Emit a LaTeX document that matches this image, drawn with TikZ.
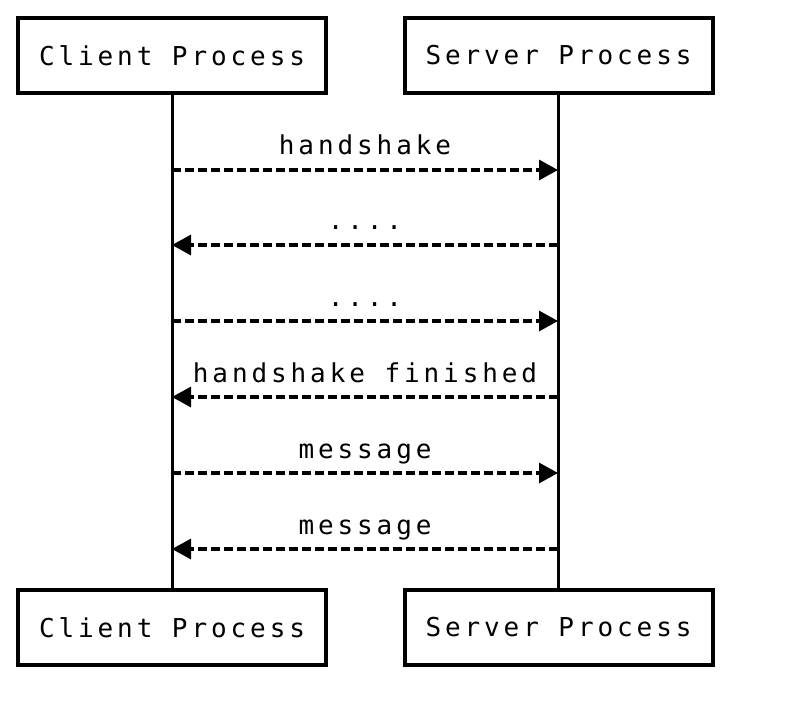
\documentclass[tikz,border=0pt]{standalone}
\usepackage{fontspec}
\setmonofont{DejaVu Sans Mono}[LetterSpace=15]
\usetikzlibrary{arrows.meta}

\begin{document}
\begin{tikzpicture}[x=1pt, y=-1pt, font=\ttfamily\fontsize{26}{30}\selectfont,
proc node/.style={draw,line width=4pt,minimum width=308pt,minimum height=75pt,inner sep=0pt},
msg/.style={line width=3.2pt,dash pattern=on 9pt off 4pt,-{Triangle[length=19pt,width=20pt]}}]
\useasboundingbox (0,0) rectangle (802,708);

\node[proc node] (CT) at (172,55.5) {Client Process};
\node[proc node] (ST) at (558.5,55.5) {Server Process};
\node[proc node] (CB) at (172,627.5) {Client Process};
\node[proc node] (SB) at (558.5,627.5) {Server Process};

\draw[line width=3pt] (CT) -- (CB);
\draw[line width=3pt] (ST.south -| 558,0) -- (SB.north -| 558,0);

% points on the lifelines
\coordinate (c1) at (172,170); \coordinate (s1) at (558,170);
\coordinate (c2) at (172,245); \coordinate (s2) at (558,245);
\coordinate (c3) at (172,321); \coordinate (s3) at (558,321);
\coordinate (c4) at (172,397); \coordinate (s4) at (558,397);
\coordinate (c5) at (172,473); \coordinate (s5) at (558,473);
\coordinate (c6) at (172,549); \coordinate (s6) at (558,549);

\path[every node/.style={midway,anchor=base,yshift=15pt}]
(c1) edge[msg] node {handshake} (s1)
(s2) edge[msg] node {....} (c2)
(c3) edge[msg] node {....} (s3)
(s4) edge[msg] node {handshake finished} (c4)
(c5) edge[msg] node {message} (s5)
(s6) edge[msg] node {message} (c6)
;
\end{tikzpicture}
\end{document}
